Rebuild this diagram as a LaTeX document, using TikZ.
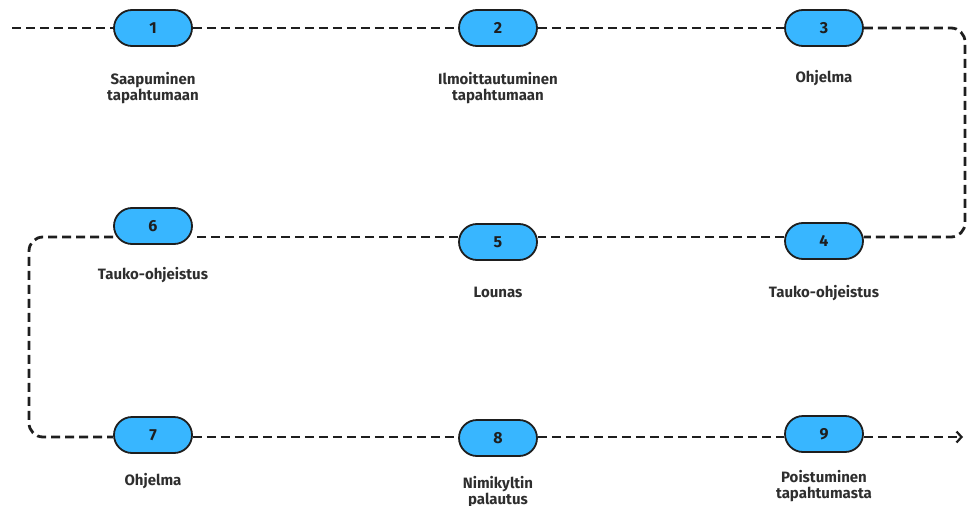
\documentclass[tikz,border=0pt]{standalone}
\usepackage{fontspec}
\setmainfont{Fira Sans}
\usetikzlibrary{arrows.meta,shapes.misc}
\definecolor{pillfill}{HTML}{38B6FF}
\definecolor{ink}{HTML}{1E1E1E}
\definecolor{txt}{HTML}{2E2E2E}
\tikzset{
  pill/.style={rounded rectangle, draw=ink, line width=1.8pt, fill=pillfill,
    minimum width=78pt, minimum height=36pt, inner sep=0pt, text=ink,
    font=\bfseries\fontsize{16}{18}\selectfont},
  lbl/.style={anchor=base, align=center, text=txt, inner sep=0pt,
    font=\bfseries\fontsize{15}{16}\selectfont},
  flow/.style={draw=ink, line width=2.8pt, dash pattern=on 9pt off 5pt, rounded corners=14pt}
}
\begin{document}
\begin{tikzpicture}[x=1pt,y=-1pt]
\useasboundingbox (0,0) rectangle (967,506);
% pills
\node[pill] (n1) at (153,28) {1};
\node[pill] (n2) at (498,28) {2};
\node[pill] (n3) at (824,28) {3};
\node[pill] (n6) at (153,226) {6};
\node[pill] (n5) at (498,242) {5};
\node[pill] (n4) at (824,241) {4};
\node[pill] (n7) at (153,435) {7};
\node[pill] (n8) at (498,438) {8};
\node[pill] (n9) at (824,434) {9};
% labels (base = baseline of last line)
\node[lbl] (l1) at (153,100) {Saapuminen\\tapahtumaan};
\node[lbl] (l2) at (498,100) {Ilmoittautuminen\\tapahtumaan};
\node[lbl] (l3) at (824,82) {Ohjelma};
\node[lbl] (l6) at (153,279) {Tauko-ohjeistus};
\node[lbl] (l5) at (498,297) {Lounas};
\node[lbl] (l4) at (824,297) {Tauko-ohjeistus};
\node[lbl] (l7) at (153,485) {Ohjelma};
\node[lbl] (l8) at (498,504) {Nimikyltin\\palautus};
\node[lbl] (l9) at (824,498) {Poistuminen\\tapahtumasta};
% line helpers
\coordinate (s) at (12,28);
\coordinate (rt) at (965,28);
\coordinate (m) at (0,237);
\coordinate (lf) at (29,237);
\coordinate (b) at (0,437);
\coordinate (e) at (963,437);
% connectors
\draw[flow] (s) -- (n1.west);
\draw[flow] (n1.east) -- (n2.west);
\draw[flow] (n2.east) -- (n3.west);
\draw[flow] (n3.east) -- (rt) -- (rt |- m) -- (n4.east |- m);
\draw[flow] (n4.west |- m) -- (n5.east |- m);
\draw[flow] (n5.west |- m) -- (n6.east |- m);
\draw[flow] (n6.west |- m) -- (lf) -- (lf |- b) -- (n7.west |- b);
\draw[flow] (n7.east |- b) -- (n8.west |- b);
\draw[flow] (n8.east |- b) -- (n9.west |- b);
\draw[flow, -{Straight Barb[length=5pt,width=11pt,line width=2.2pt]}] (n9.east |- b) -- (e);
\end{tikzpicture}
\end{document}
